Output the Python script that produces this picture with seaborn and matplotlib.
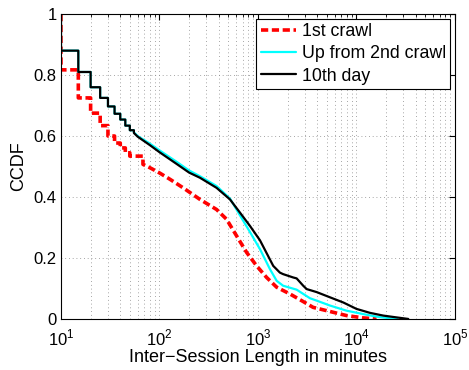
# Import libraries
import numpy as np
import pandas as pd
import matplotlib
matplotlib.use("Agg")
import matplotlib.pyplot as plt
import seaborn as sns
from matplotlib.lines import Line2D

# CCDF values (step part every 5 minutes, then smooth part)
step_minutes = [10, 15, 20, 25, 30, 35, 40, 45, 50]

crawl1_steps = [0.817, 0.725, 0.675, 0.634, 0.600, 0.577, 0.561, 0.545, 0.534]
crawl1_minutes = [68, 80, 100, 128, 174, 258, 380, 480, 608, 768, 970, 1225,
                  1550, 2110, 2880, 3630, 5000, 7950, 11700, 16000]
crawl1_ccdf = [0.507, 0.496, 0.479, 0.458, 0.430, 0.392, 0.359, 0.327, 0.272,
               0.218, 0.174, 0.136, 0.104, 0.082, 0.057, 0.038, 0.027, 0.011,
               0.0035, 0.0]

crawl2_steps = [0.88, 0.81, 0.76, 0.725, 0.697, 0.673, 0.654, 0.634, 0.619]
crawl2_minutes = [55, 60, 80, 100, 150, 200, 258, 380, 520, 656, 830, 1048,
                  1325, 1550, 1800, 2470, 3370, 3950, 5380, 7950, 11700,
                  16000, 22000, 26000]
crawl2_ccdf = [0.612, 0.600, 0.575, 0.553, 0.515, 0.487, 0.468, 0.436, 0.395,
               0.340, 0.285, 0.229, 0.163, 0.125, 0.109, 0.096, 0.068, 0.060,
               0.044, 0.027, 0.016, 0.0075, 0.002, 0.0]

day10_steps = [0.88, 0.81, 0.76, 0.725, 0.697, 0.673, 0.654, 0.634, 0.619]
day10_minutes = [55, 60, 80, 100, 150, 200, 258, 380, 520, 656, 830, 1048,
                 1430, 1670, 1800, 2280, 2470, 2880, 3120, 3950, 5380, 7350,
                 10000, 13700, 18700, 25600, 33600]
day10_ccdf = [0.610, 0.598, 0.570, 0.547, 0.508, 0.480, 0.463, 0.430, 0.392,
              0.349, 0.305, 0.258, 0.174, 0.152, 0.147, 0.136, 0.133, 0.109,
              0.098, 0.088, 0.071, 0.054, 0.033, 0.020, 0.011, 0.005, 0.0]

labels = ["1st crawl", "Up from 2nd crawl", "10th day"]
colors = ["#ff0000", "#00ffff", "#000000"]


def build_curve(steps, minutes, ccdf):
    # vertical start at 1, then hold each step value until the next step
    xs, ys = [step_minutes[0]], [1.0]
    nxt = step_minutes[1:] + [minutes[0]]
    for x0, x1, y in zip(step_minutes, nxt, steps):
        xs += [x0, x1]
        ys += [y, y]
    return xs + minutes, ys + ccdf


frames = []
for lab, st, mi, cc in [(labels[0], crawl1_steps, crawl1_minutes, crawl1_ccdf),
                        (labels[1], crawl2_steps, crawl2_minutes, crawl2_ccdf),
                        (labels[2], day10_steps, day10_minutes, day10_ccdf)]:
    xs, ys = build_curve(st, mi, cc)
    frames.append(pd.DataFrame({"minutes": xs, "ccdf": ys, "series": lab}))
df = pd.concat(frames, ignore_index=True)

# Style
sns.set_style("white")
plt.rcParams['font.family'] = ['Liberation Sans', 'DejaVu Sans']
plt.rcParams['mathtext.fontset'] = 'custom'
plt.rcParams['mathtext.rm'] = 'Liberation Sans'
plt.rcParams['text.color'] = 'black'
plt.rcParams['axes.labelcolor'] = 'black'
plt.rcParams['xtick.color'] = 'black'
plt.rcParams['ytick.color'] = 'black'

fig = plt.figure(figsize=(4.69, 3.70), dpi=100)
ax = fig.add_axes([0.130, 0.138, 0.840, 0.824])

sns.lineplot(data=df, x="minutes", y="ccdf", hue="series", style="series",
             hue_order=labels, style_order=labels, palette=colors,
             dashes={labels[0]: (2, 1), labels[1]: "", labels[2]: ""},
             estimator=None, sort=False, ax=ax, legend=False)
for line, lw in zip(ax.get_lines(), [2.6, 1.6, 1.6]):
    line.set_linewidth(lw)

ax.set_xscale("log")
ax.set_xlim(10, 1e5)
ax.set_ylim(0, 1)
ax.set_yticks([0, 0.2, 0.4, 0.6, 0.8, 1])
ax.set_yticklabels(["0", "0.2", "0.4", "0.6", "0.8", "1"])
ax.set_xticks([1e1, 1e2, 1e3, 1e4, 1e5])
ax.set_xticklabels([r"$10^{1}$", r"$10^{2}$", r"$10^{3}$", r"$10^{4}$", r"$10^{5}$"])

grid_style = dict(linestyle=(0, (1, 3.5)), color="#888888", linewidth=0.6)
ax.grid(True, which="major", **grid_style)
ax.grid(True, which="minor", axis="x", **grid_style)
ax.tick_params(which="both", direction="in", top=True, right=True, labelsize=12,
               color="black", labelcolor="black")
ax.tick_params(axis="x", which="major", pad=6.5)
ax.tick_params(axis="y", which="major", pad=3)
ax.tick_params(which="major", length=4)
ax.tick_params(which="minor", length=2)
for sp in ax.spines.values():
    sp.set_color("black")
    sp.set_linewidth(0.8)

ax.set_xlabel("Inter\u2212Session Length in minutes", fontsize=13, labelpad=0,
              color="black")
ax.set_ylabel("CCDF", fontsize=13, labelpad=5, color="black")

# Legend
handles = [Line2D([], [], color=colors[0], lw=2.6, dashes=(2, 1)),
           Line2D([], [], color=colors[1], lw=1.6),
           Line2D([], [], color=colors[2], lw=1.6)]
leg = ax.legend(handles, labels, loc="upper right", fontsize=12.8, fancybox=False,
                edgecolor="black", framealpha=1, borderaxespad=0.25,
                handlelength=2.0, handletextpad=0.3, labelspacing=0.3,
                borderpad=0.25, labelcolor="black")
leg.get_frame().set_linewidth(0.8)

plt.savefig("out.png", dpi=100)
